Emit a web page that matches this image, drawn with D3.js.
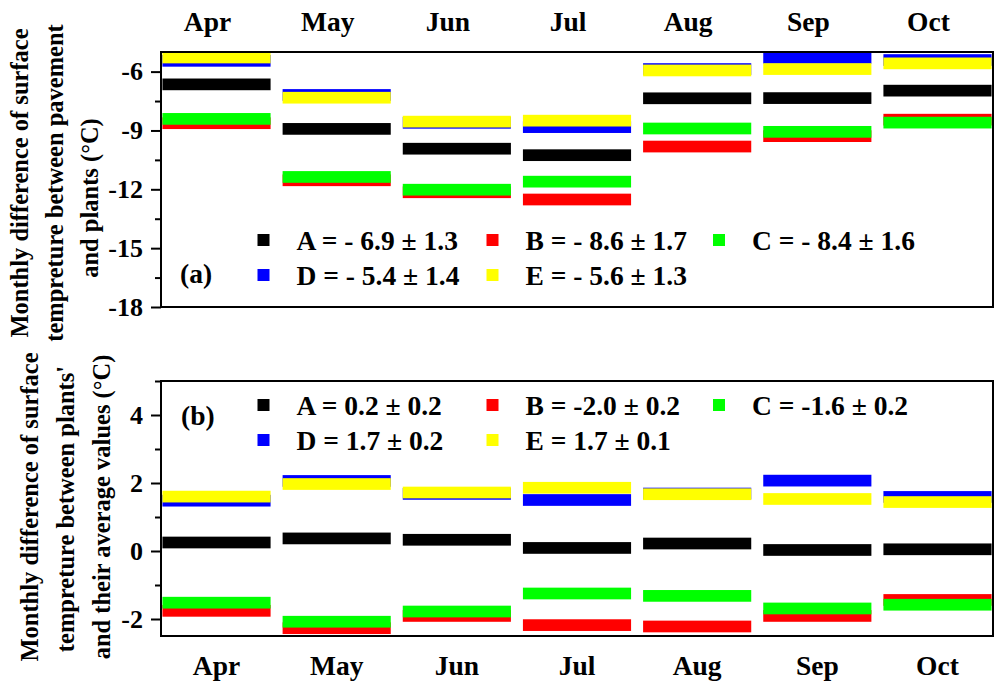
<!DOCTYPE html>
<html>
<head>
<meta charset="utf-8">
<script src="https://cdn.jsdelivr.net/npm/d3@7"></script>
<style>
  html, body { margin: 0; padding: 0; background: #fff; }
  svg { display: block; font-family: "Liberation Serif", "Times New Roman", serif; font-weight: bold; }
</style>
</head>
<body>
<svg id="chart" width="995" height="685"></svg>
<script>
// Months shown along both panels
const months = ["Apr", "May", "Jun", "Jul", "Aug", "Sep", "Oct"];
const seriesNames = ["A", "B", "C", "D", "E"];

// Panel (a): pavement minus plant surface temperature (°C)
const pavementA = [-6.65, -8.92, -9.93, -10.26, -7.36, -7.35, -6.97];
const pavementB = [-8.63, -11.54, -12.15, -12.52, -9.82, -9.29, -8.45];
const pavementC = [-8.41, -11.37, -12.02, -11.61, -8.90, -9.07, -8.60];
const pavementD = [-5.45, -7.19, -8.61, -8.83, -5.87, -5.30, -5.41];
const pavementE = [-5.28, -7.33, -8.55, -8.50, -5.94, -5.87, -5.58];

// Panel (b): plant surface temperature minus the plants' average (°C)
const averageA = [0.25, 0.37, 0.33, 0.09, 0.22, 0.03, 0.05];
const averageB = [-1.76, -2.27, -1.91, -2.18, -2.22, -1.91, -1.44];
const averageC = [-1.52, -2.08, -1.78, -1.25, -1.32, -1.69, -1.58];
const averageD = [1.48, 2.06, 1.68, 1.50, 1.69, 2.07, 1.59];
const averageE = [1.60, 1.97, 1.72, 1.86, 1.67, 1.53, 1.44];

// Legend texts
const legendTop = ["A = - 6.9 \u00b1 1.3", "B = - 8.6 \u00b1 1.7", "C = - 8.4 \u00b1 1.6",
                   "D = - 5.4 \u00b1 1.4", "E = - 5.6 \u00b1 1.3"];
const legendBottom = ["A = 0.2 \u00b1 0.2", "B = -2.0 \u00b1 0.2", "C = -1.6 \u00b1 0.2",
                      "D = 1.7 \u00b1 0.2", "E = 1.7 \u00b1 0.1"];

// Axis ticks
const topMajor = [-6, -9, -12, -15, -18];
const topMinor = [-7.5, -10.5, -13.5, -16.5];
const bottomMajor = [4, 2, 0, -2];
const bottomMinor = [5, 3, 1, -1];

const topTitle = ["Monthly  difference of surface", "tempreture between pavement", "and plants (\u00b0C)"];
const bottomTitle = ["Monthly difference of surface", "tempreture between plants'", "and  their average values (\u00b0C)"];

const colors = ["#000000", "#ff0000", "#00ff00", "#0000ff", "#ffff00"];

const svg = d3.select("#chart");
const left = 161, right = 993;
const barThickness = 11.7;

const x = d3.scaleBand().domain(months).range([left, right]).paddingInner(0.1).paddingOuter(0.012);

function panel(cfg) {
  const { top, bottom, domain, major, minor, series, legend, tag, legendRows, tagPos, clipId } = cfg;
  const y = d3.scaleLinear().domain(domain).range([bottom, top]);
  const g = svg.append("g");

  g.append("clipPath").attr("id", clipId)
    .append("rect").attr("x", left).attr("y", top).attr("width", right - left).attr("height", bottom - top);

  // bars: each series drawn in order so later series sit on top
  const bars = g.append("g").attr("clip-path", `url(#${clipId})`);
  series.forEach((vals, si) => {
    bars.selectAll(null).data(vals.map((v, i) => ({ m: months[i], v })))
      .join("rect")
      .attr("x", d => x(d.m))
      .attr("width", x.bandwidth())
      .attr("y", d => y(d.v) - barThickness / 2)
      .attr("height", barThickness)
      .attr("fill", colors[si]);
  });

  // axis
  const ax = g.append("g").attr("transform", `translate(${left},0)`)
    .call(d3.axisLeft(y).tickValues(major).tickSize(10).tickPadding(8).tickSizeOuter(0)
      .tickFormat(d => String(d)));
  ax.select(".domain").remove();
  ax.selectAll(".tick line").attr("stroke-width", 2);
  ax.selectAll(".tick text").attr("font-size", 26).attr("font-family", "Liberation Serif").attr("font-weight", "bold").attr("fill", "#000");

  const axm = g.append("g").attr("transform", `translate(${left},0)`)
    .call(d3.axisLeft(y).tickValues(minor).tickSize(6).tickFormat("").tickSizeOuter(0));
  axm.select(".domain").remove();
  axm.selectAll(".tick line").attr("stroke-width", 2);

  // frame
  g.append("rect").attr("x", left).attr("y", top).attr("width", right - left).attr("height", bottom - top)
    .attr("fill", "none").attr("stroke", "#000").attr("stroke-width", 2);

  // legend
  const lx = [263.5, 492.5, 719];
  legend.forEach((t, i) => {
    const row = i < 3 ? 0 : 1;
    const col = i < 3 ? i : i - 3;
    const base = legendRows[row];
    g.append("rect")
      .attr("x", lx[col] - 6).attr("y", base - 16).attr("width", 12).attr("height", 12)
      .attr("fill", colors[i]);
    g.append("text").attr("x", lx[col] + 33).attr("y", base)
      .attr("font-size", 27.5).text(t);
  });
  g.append("text").attr("x", tagPos[0]).attr("y", tagPos[1]).attr("font-size", 27.5).text(tag);
  return y;
}

panel({
  top: 52, bottom: 307, domain: [-18, -5], major: topMajor, minor: topMinor,
  series: [pavementA, pavementB, pavementC, pavementD, pavementE],
  legend: legendTop, tag: "(a)", legendRows: [250, 285], tagPos: [180, 283], clipId: "clipA"
});
panel({
  top: 381, bottom: 636, domain: [-2.5, 5], major: bottomMajor, minor: bottomMinor,
  series: [averageA, averageB, averageC, averageD, averageE],
  legend: legendBottom, tag: "(b)", legendRows: [415, 450], tagPos: [181, 425], clipId: "clipB"
});

// month labels above and below
svg.append("g").selectAll("text").data(months).join("text")
  .attr("x", d => x(d) + x.bandwidth() / 2 - 9).attr("y", 31)
  .attr("text-anchor", "middle").attr("font-size", 27.5).text(d => d);
svg.append("g").selectAll("text").data(months).join("text")
  .attr("x", d => x(d) + x.bandwidth() / 2).attr("y", 675)
  .attr("text-anchor", "middle").attr("font-size", 27.5).text(d => d);

// rotated axis titles
function title(lines, xs, ys) {
  lines.forEach((t, i) => {
    svg.append("text")
      .attr("transform", `translate(${xs[i]},${ys[i]}) rotate(-90)`)
      .attr("text-anchor", "middle").attr("font-size", 24.5).text(t);
  });
}
title(topTitle, [28, 63, 98], [183, 183, 198]);
title(bottomTitle, [38, 74, 110], [507, 509, 507]);
</script>
</body>
</html>
